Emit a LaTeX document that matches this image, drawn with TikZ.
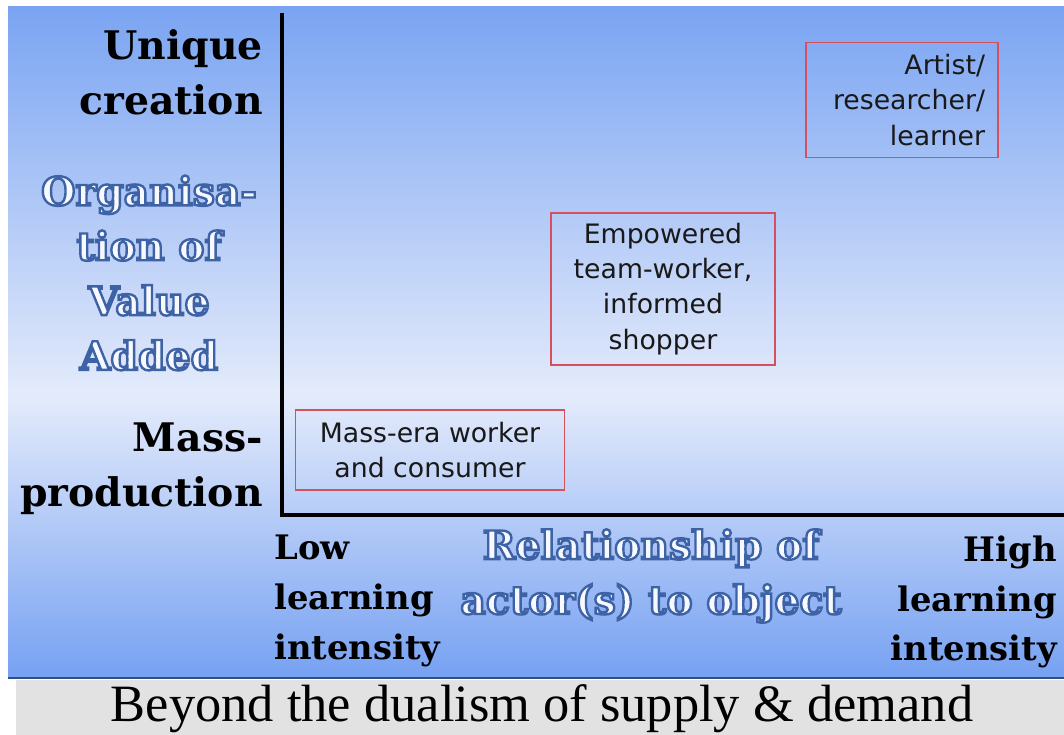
\documentclass[tikz,border=0pt]{standalone}
\usepackage{fontspec}
\usetikzlibrary{positioning}

\newfontfamily\labelfont{DejaVu Serif}
\newfontfamily\boxfont{DejaVu Sans}
\newfontfamily\captionfont{Liberation Serif}

\definecolor{panelblue}{HTML}{76A1F2}
\definecolor{paletop}{HTML}{7AA4F2}
\definecolor{palemid}{HTML}{E4EBFB}
\definecolor{boxred}{HTML}{D4505C}
\definecolor{rimblue}{HTML}{3D62A6}
\definecolor{hollowfill}{HTML}{F7F9FE}
\definecolor{bandgray}{HTML}{E2E2E2}

% the path is fitted to the 25bp--75bp part of the shading
\pgfdeclareverticalshading{panelshade}{100bp}{color(0bp)=(panelblue); color(25bp)=(panelblue); color(46bp)=(palemid); color(75bp)=(paletop); color(100bp)=(paletop)}

% outlined letters: fill light, stroke blue (text render mode 2)
\newcommand{\hollow}[1]{{\color{hollowfill}\special{pdf:literal direct 2 Tr 1.7 w 0.24 0.384 0.651 RG}#1\special{pdf:literal direct 0 Tr}}}

\begin{document}
\begin{tikzpicture}[x=0.025cm,y=-0.025cm,
	axis/.style={line width=2.2pt,black},
	quadrant/.style={draw=boxred,line width=1.3pt,inner sep=0pt,font=\boxfont\fontsize{19}{25}\selectfont,text=black!90},
	scale label/.style={font=\labelfont\bfseries\fontsize{28}{39}\selectfont,inner sep=0pt},
	end label/.style={font=\labelfont\bfseries\fontsize{24}{35.5}\selectfont,inner sep=0pt},
	]
	\useasboundingbox (0,0) rectangle (1064,735);
	% panel and caption band
	\shade[shading=panelshade] (8,7) rectangle (1064,678);
	\draw[rimblue!80!black,line width=1pt] (8,678) -- (1064,678);
	\fill[bandgray] (16,680) rectangle (1064,735);
	
	% axes
	\coordinate (ytop) at (282,13);
	\coordinate (origin) at (282,515);
	\coordinate (xend) at (1064,515);
	\draw[axis] (ytop) -- (origin) -- (xend);
	
	% vertical scale
	\node[scale label,align=right,anchor=east] (unique) at (263,72) {Unique\\creation};
	\node[scale label,align=right,anchor=east] (mass) at (263,469) {Mass-\\production};
	\node[scale label,align=center] (value) at (149,273) {\hollow{Organisa-}\\\hollow{tion of}\\\hollow{Value}\\\hollow{Added}};
	
	% horizontal scale
	\node[end label,align=left,anchor=west] (low) at (274,601) {Low\\learning\\intensity};
	\node[end label,align=right,anchor=east] (high) at (1057,602) {High\\learning\\intensity};
	\node[scale label,align=center] (relation) at (651,576) {\hollow{Relationship of}\\\hollow{actor(s) to object}};
	
	% quadrant boxes
	\node[quadrant,minimum width=6.725cm,minimum height=2cm,align=center] (massera) at (430,450) {Mass-era worker\\and consumer};
	\node[quadrant,minimum width=5.6cm,minimum height=3.8cm,align=center] (team) at (663,289) {Empowered\\team-worker,\\informed\\shopper};
	\node[quadrant,minimum width=4.8cm,minimum height=2.875cm,align=right,text width=4.15cm] (artist) at (902,100) {Artist/\\researcher/\\learner};
	
	% caption
	\node[font=\captionfont\fontsize{37.3}{44}\selectfont] (caption) at (542,709) {Beyond the dualism of supply \& demand};
\end{tikzpicture}
\end{document}
